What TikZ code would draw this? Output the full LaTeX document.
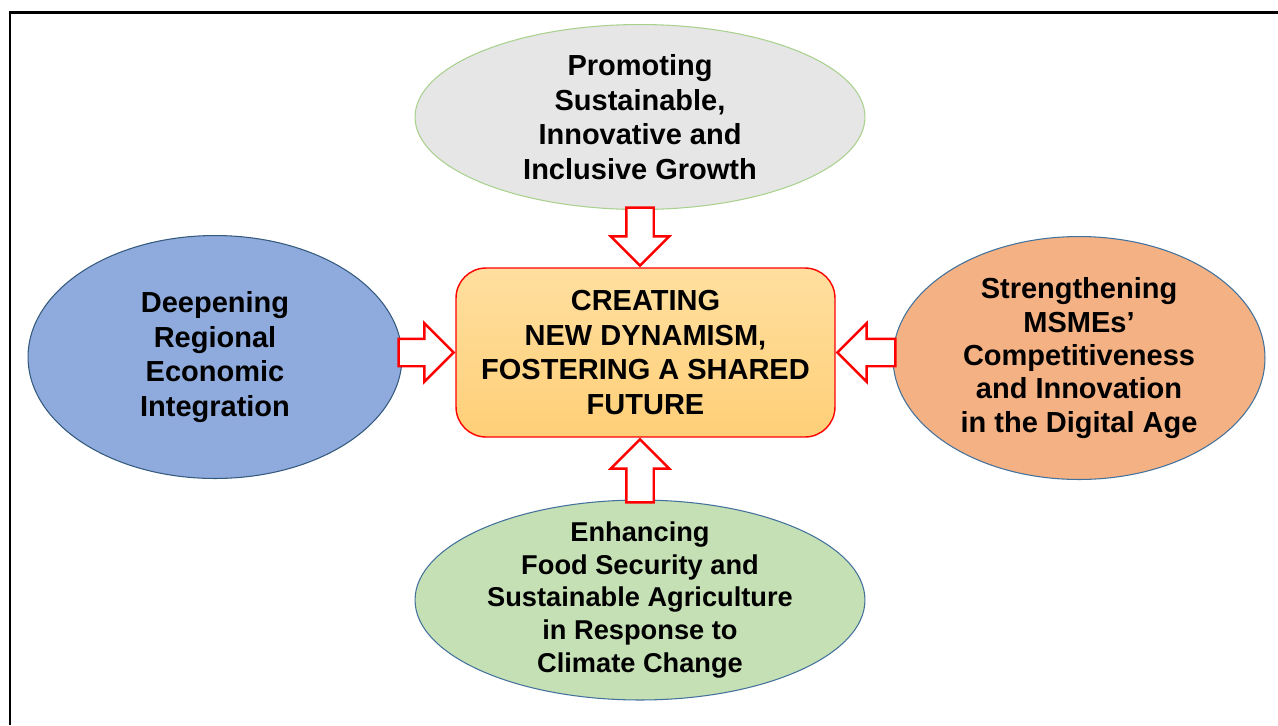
\documentclass[tikz,border=0pt]{standalone}
\usepackage{fontspec}
\setmainfont{Liberation Sans}
\usetikzlibrary{shapes.geometric, shapes.arrows, positioning}
\definecolor{topfill}{HTML}{E7E6E6}
\definecolor{topline}{HTML}{A9D18E}
\definecolor{leftfill}{HTML}{8FAADC}
\definecolor{rightfill}{HTML}{F4B183}
\definecolor{bottomfill}{HTML}{C5E0B4}
\definecolor{rimblue}{HTML}{41719C}
\definecolor{coretop}{HTML}{FFDF9F}
\definecolor{corebottom}{HTML}{FFCF78}
\tikzset{every ellipse/.style={ellipse,draw=rimblue,line width=0.6pt,inner sep=-10pt,align=center,font=\bfseries\fontsize{16.5}{19.6}\selectfont},
         core/.style={draw=red,line width=0.8pt,rounded corners=0.6cm,top color=coretop,bottom color=corebottom,minimum width=7.58cm,minimum height=3.38cm,align=center,font=\bfseries\fontsize{16.5}{19.8}\selectfont},
         blockarrow/.style={single arrow,draw=red,line width=1.4pt,fill=white,inner xsep=0pt,inner ysep=0.25cm,single arrow head extend=0.31cm,anchor=tip},
        }

\begin{document}
\begin{tikzpicture}[x=0.02cm,y=-0.02cm]
        \useasboundingbox (0,0) rectangle (1278,725);
        \draw[line width=1.7pt] (1278,12) -- (10,12) -- (10,725);

        \node[core](core)at(645.5,352.5){CREATING\\NEW DYNAMISM,\\FOSTERING A SHARED\\FUTURE};

        \node[every ellipse,draw=topline,fill=topfill,minimum width=9cm,minimum height=3.7cm](promote)at(640,117){Promoting\\Sustainable,\\Innovative and\\Inclusive Growth};
        \node[every ellipse,draw=rimblue!80!black,fill=leftfill,minimum width=7.48cm,minimum height=4.86cm](deepen)at(215,357){Deepening\\Regional\\Economic\\Integration};
        \node[every ellipse,fill=rightfill,minimum width=7.44cm,minimum height=4.86cm,font=\bfseries\fontsize{16.5}{19}\selectfont](msme)at(1079,358){Strengthening\\MSMEs’\\Competitiveness\\and Innovation\\in the Digital Age};
        \node[every ellipse,fill=bottomfill,minimum width=9cm,minimum height=4cm,font=\bfseries\fontsize{15.5}{18.7}\selectfont](food)at(640,600){Enhancing\\Food Security and\\Sustainable Agriculture\\in Response to\\Climate Change};

        \node[blockarrow,rotate=-90,minimum height=1.16cm](arrtop)at(promote.south |- core.north){};
        \node[blockarrow,rotate=90,minimum height=1.26cm](arrbottom)at(food.north |- core.south){};
        \node[blockarrow,minimum height=1.1cm](arrleft)at(core.west){};
        \node[blockarrow,rotate=180,minimum height=1.16cm](arrright)at(core.east){};
    \end{tikzpicture}
\end{document}
